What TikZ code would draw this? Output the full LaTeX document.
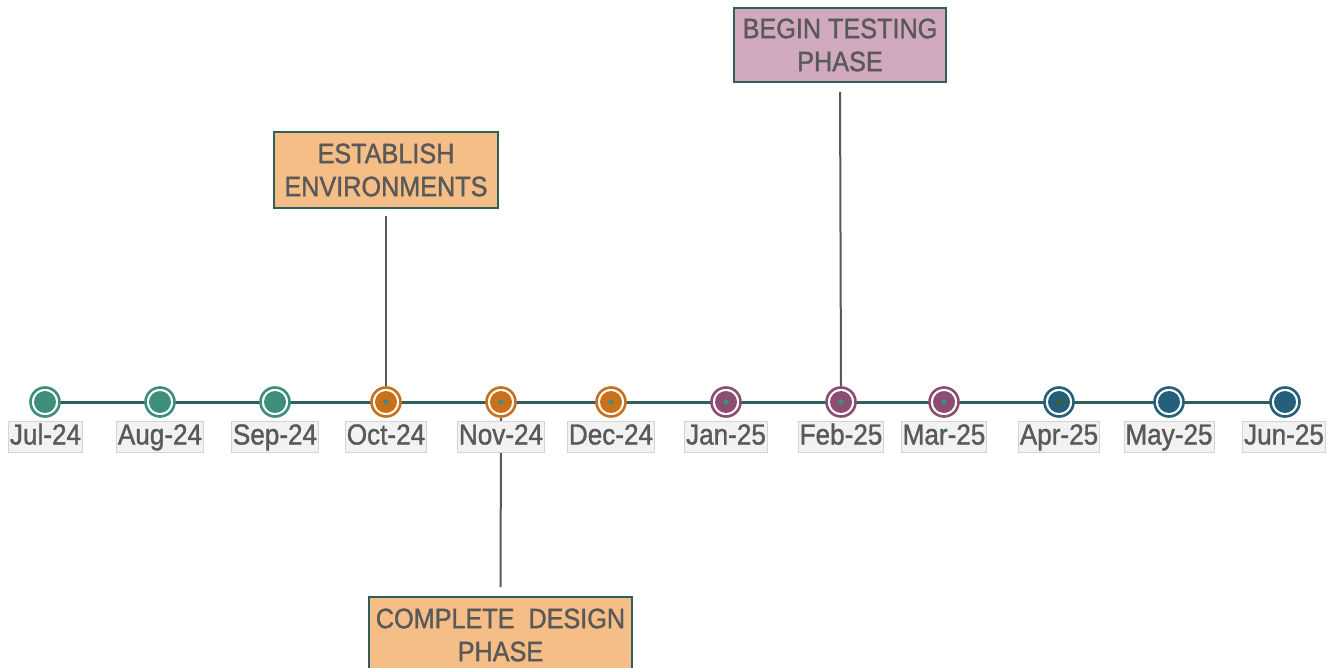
\documentclass[tikz,border=0pt]{standalone}
\usepackage{fontspec}
\setmainfont{Liberation Sans}[FakeStretch=0.9,FakeBold=1.2]
\usetikzlibrary{backgrounds}
\definecolor{cteal}{HTML}{3E8E7E}
\definecolor{corange}{HTML}{C8711A}
\definecolor{cpurple}{HTML}{8B4E72}
\definecolor{cblue}{HTML}{25607A}
\definecolor{cline}{HTML}{2F5F5A}
\definecolor{ctext}{HTML}{595959}
\definecolor{cpeach}{HTML}{F4BE86}
\definecolor{cpink}{HTML}{D0A9BE}
\definecolor{clabfill}{HTML}{F2F2F2}
\definecolor{clabdraw}{HTML}{D4D4D4}
\definecolor{ccdot}{HTML}{3E8E7E}
\definecolor{colive}{HTML}{4A5A20}
\tikzset{
  ring/.style={circle, draw=#1, line width=2.6pt, fill=white, minimum size=29pt, inner sep=0pt},
  monthlab/.style={draw=clabdraw, line width=0.8pt, fill=clabfill, text=ctext, inner xsep=1.5pt, inner ysep=0pt,
    font=\fontsize{29}{33}\selectfont, text height=23pt, text depth=8pt},
  callout/.style={draw=cline, line width=2pt, text=ctext, align=center,
    font=\fontsize{28}{33}\selectfont, inner sep=0pt},
  stem/.style={draw=ctext, line width=2pt},
  axis/.style={draw=cline, line width=3pt},
}
\newcommand{\mdot}[4]{%
  \node[ring=#2] (#1) at (#3,402) {};
  \fill[#2] (#1.center) circle (11);
  \ifx&#4&\else\fill[#4] (#1.center) circle (2.6);\fi
}
\begin{document}
\begin{tikzpicture}[x=1pt,y=-1pt]
\useasboundingbox (0,0) rectangle (1334,668);
\clip (0,0) rectangle (1334,668);
\mdot{d1}{cteal}{45}{}
\mdot{d2}{cteal}{160}{}
\mdot{d3}{cteal}{275}{}
\mdot{d4}{corange}{386}{ccdot}
\mdot{d5}{corange}{501}{ccdot}
\mdot{d6}{corange}{611}{ccdot}
\mdot{d7}{cpurple}{726}{ccdot}
\mdot{d8}{cpurple}{841}{ccdot}
\mdot{d9}{cpurple}{944}{ccdot}
\mdot{d10}{cblue}{1059}{colive}
\mdot{d11}{cblue}{1169}{}
\mdot{d12}{cblue}{1285}{}
\node[monthlab] (l1) at (45.5,437) {Jul-24};
\node[monthlab] (l2) at (160,437) {Aug-24};
\node[monthlab] (l3) at (275,437) {Sep-24};
\node[monthlab] (l4) at (386,437) {Oct-24};
\node[monthlab] (l5) at (501,437) {Nov-24};
\node[monthlab] (l6) at (611,437) {Dec-24};
\node[monthlab] (l7) at (726,437) {Jan-25};
\node[monthlab] (l8) at (841,437) {Feb-25};
\node[monthlab] (l9) at (944,437) {Mar-25};
\node[monthlab] (l10) at (1059,437) {Apr-25};
\node[monthlab] (l11) at (1169,437) {May-25};
\node[monthlab] (l12) at (1284,437) {Jun-25};
\node[callout, fill=cpeach, minimum width=224pt, minimum height=76pt] (est) at (386,170) {ESTABLISH\\ENVIRONMENTS};
\node[callout, fill=cpink, minimum width=212pt, minimum height=74pt] (beg) at (840,45) {BEGIN TESTING\\PHASE};
\node[callout, fill=cpeach, minimum width=263pt, minimum height=76pt] (cmp) at (500.5,635) {COMPLETE\ \ DESIGN\\PHASE};
\begin{scope}[on background layer]
  \draw[axis] (d1.center) -- (d12.center);
  \draw[stem, shorten <=7pt] (est.south) -- (d4.north);
  \draw[stem, shorten <=9pt] (beg.south) -- (d8.north);
  \draw[stem, shorten >=9pt] (d5.south) -- (cmp.north);
\end{scope}
\end{tikzpicture}
\end{document}
